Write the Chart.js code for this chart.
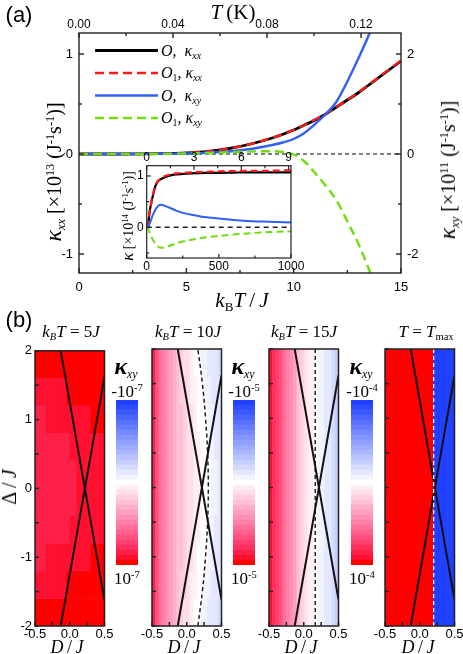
<!DOCTYPE html>
<html><head><meta charset="utf-8">
<script src="https://cdn.jsdelivr.net/npm/chart.js@4/dist/chart.umd.min.js"></script>
<style>
body{margin:0;width:463px;height:654px;position:relative;background:#fff;overflow:hidden;font-family:"Liberation Sans",Arial,sans-serif;}
canvas{position:absolute;}
.t{position:absolute;white-space:nowrap;transform:translate(-50%,-50%);font-family:"Liberation Serif","Times New Roman",serif;line-height:1;color:#000;}
.r{transform:translate(-50%,-50%) rotate(-90deg);}
.tl{position:absolute;white-space:nowrap;transform:translate(0,-50%);font-family:"Liberation Serif","Times New Roman",serif;line-height:1;font-style:italic;}
.s{font-family:"Liberation Sans",Arial,sans-serif;}
sub,sup{font-size:62%;line-height:0;position:relative;vertical-align:baseline;}
sup{top:-0.55em;} sub{top:0.3em;}
.k{font-style:italic;font-size:120%;}
.kb{font-style:italic;font-weight:bold;font-size:125%;}
</style></head><body>
<canvas id="main" width="463" height="310" style="left:0;top:0"></canvas>
<canvas id="inset" width="195" height="122" style="left:116px;top:150px"></canvas>
<canvas id="p0" width="125" height="310" style="left:0;top:340px"></canvas>
<canvas id="p1" width="125" height="310" style="left:117px;top:340px"></canvas>
<canvas id="p2" width="125" height="310" style="left:234px;top:340px"></canvas>
<canvas id="p3" width="125" height="310" style="left:350px;top:340px"></canvas>
<canvas id="cb0" width="22" height="165" style="left:116px;top:400px"></canvas>
<canvas id="cb1" width="22" height="165" style="left:233px;top:400px"></canvas>
<canvas id="cb2" width="22" height="165" style="left:351px;top:400px"></canvas>

<div class="t s" style="left:19px;top:15px;font-size:22px">(a)</div>
<div class="t" style="left:233px;top:12px;font-size:21px"><i>T</i>&thinsp;(K)</div>
<div class="t r" style="left:53px;top:172px;font-size:20px"><span class="k">κ</span><sub><i>xx</i></sub> [×10<sup>13</sup> (J<sup>-1</sup>s<sup>-1</sup>)]</div>
<div class="t r" style="left:447px;top:170px;font-size:20px"><span class="k">κ</span><sub><i>xy</i></sub> [×10<sup>11</sup> (J<sup>-1</sup>s<sup>-1</sup>)]</div>
<div class="t" style="left:242px;top:300px;font-size:21px"><i>k</i><sub>B</sub><i>T</i>&thinsp;/&thinsp;<i>J</i></div>
<div class="tl" style="left:161px;top:51px;font-size:16px">O,&nbsp; κ<sub>xx</sub></div>
<div class="tl" style="left:161px;top:73px;font-size:16px">O<sub style="font-style:normal">1</sub>, κ<sub>xx</sub></div>
<div class="tl" style="left:161px;top:96px;font-size:16px">O,&nbsp; κ<sub>xy</sub></div>
<div class="tl" style="left:161px;top:118px;font-size:16px">O<sub style="font-style:normal">1</sub>, κ<sub>xy</sub></div>
<div class="t r" style="left:128px;top:216px;font-size:14px"><span class="k">κ</span> [×10<sup>14</sup> (J<sup>-1</sup>s<sup>-1</sup>)]</div>

<div class="t s" style="left:19px;top:320px;font-size:22px">(b)</div>
<div class="t" style="left:71px;top:331px;font-size:17px"><i>k<sub>B</sub>T</i> = 5<i>J</i></div>
<div class="t" style="left:188px;top:331px;font-size:17px"><i>k<sub>B</sub>T</i> = 10<i>J</i></div>
<div class="t" style="left:304px;top:331px;font-size:17px"><i>k<sub>B</sub>T</i> = 15<i>J</i></div>
<div class="t" style="left:426px;top:331px;font-size:17px"><i>T</i> = <i>T</i><sub>max</sub></div>
<div class="t r" style="left:9px;top:487px;font-size:20px">Δ&thinsp;/&thinsp;<i>J</i></div>
<div class="t" style="left:67px;top:647px;font-size:18px"><i>D</i>&thinsp;/&thinsp;<i>J</i></div>
<div class="t" style="left:184px;top:647px;font-size:18px"><i>D</i>&thinsp;/&thinsp;<i>J</i></div>
<div class="t" style="left:301px;top:647px;font-size:18px"><i>D</i>&thinsp;/&thinsp;<i>J</i></div>
<div class="t" style="left:418px;top:647px;font-size:18px"><i>D</i>&thinsp;/&thinsp;<i>J</i></div>
<div class="t" style="left:126px;top:367px;font-size:19px"><span class="kb">κ</span><sub><i>xy</i></sub></div>
<div class="t" style="left:243px;top:367px;font-size:19px"><span class="kb">κ</span><sub><i>xy</i></sub></div>
<div class="t" style="left:361px;top:367px;font-size:19px"><span class="kb">κ</span><sub><i>xy</i></sub></div>
<div class="t" style="left:127px;top:391px;font-size:17px">-10<sup>-7</sup></div>
<div class="t" style="left:244px;top:391px;font-size:17px">-10<sup>-5</sup></div>
<div class="t" style="left:362px;top:391px;font-size:17px">-10<sup>-4</sup></div>
<div class="t" style="left:127px;top:578px;font-size:17px">10<sup>-7</sup></div>
<div class="t" style="left:244px;top:578px;font-size:17px">10<sup>-5</sup></div>
<div class="t" style="left:362px;top:578px;font-size:17px">10<sup>-4</sup></div>

<script>
// ---------- DATA ----------
const kT    = [0,1,2,3,4,5,6,7,8,9,10,10.5,11,11.5,12,12.5,13,13.5,14,14.5,15];
const kxxO  = [0,0,0,0.001,0.004,0.01,0.025,0.055,0.1,0.16,0.24,0.29,0.34,0.4,0.47,0.54,0.61,0.69,0.77,0.85,0.93];
const kxxO1 = [0,0,0,0.001,0.004,0.01,0.025,0.055,0.1,0.16,0.24,0.29,0.345,0.405,0.47,0.54,0.615,0.695,0.775,0.855,0.935];
const kTxy  = [0,1,2,3,4,5,6,7,8,9,9.5,10,10.5,11,11.5,12,12.5,13,13.5,14];
const kxyO  = [0,0,0,0.002,0.005,0.01,0.025,0.05,0.1,0.18,0.23,0.3,0.42,0.6,0.8,1.05,1.45,1.9,2.38,2.95];
const kxyO1 = [0,0,0,0,0.003,0.01,0.02,0.035,0.05,0.055,0.04,-0.01,-0.15,-0.38,-0.64,-0.93,-1.35,-1.78,-2.3,-2.9];

const nIn     = [0,10,20,30,40,60,80,100,150,200,250,300,400,500,600,700,800,900,1000];
const inO_xx  = [0,0.05,0.3,0.45,0.58,0.8,0.9,0.94,1.0,1.03,1.04,1.05,1.06,1.06,1.065,1.07,1.07,1.07,1.07];
const inO1_xx = [0,0.05,0.3,0.46,0.6,0.81,0.91,0.96,1.02,1.05,1.06,1.07,1.08,1.09,1.095,1.1,1.1,1.105,1.11];
const inO_xy  = [0,0,0.07,0.14,0.22,0.34,0.42,0.44,0.39,0.33,0.28,0.25,0.2,0.17,0.14,0.12,0.11,0.1,0.09];
const inO1_xy = [0,-0.02,-0.1,-0.17,-0.23,-0.32,-0.38,-0.4,-0.37,-0.32,-0.28,-0.25,-0.2,-0.17,-0.14,-0.12,-0.1,-0.09,-0.08];

const mainXTicks = [0,5,10,15], mainXMinor = [2.5,7.5,12.5];
const mainTTicks = [0,0.04,0.08,0.12], mainTLabels = ['0.00','0.04','0.08','0.12'], mainTMinor = [0.02,0.06,0.1];
const mainYTicks = [-1,0,1], mainYMinor = [-0.5,0.5];
const mainY1Ticks = [-2,0,2], mainY1Minor = [-1,1];
const inXTicks = [0,500,1000], inXLabels = ['0','500','1000'], inXMinor = [250,750];
const inTopTicks = [0,3,6,9], inTopMinor = [1.5,4.5,7.5];
const inYTicks = [0,1], inYMinor = [-0.5,0.5];

// heat maps: column centres in D/J, rows = bands of |Delta|/J
const Dcols = [-0.475,-0.425,-0.375,-0.325,-0.275,-0.225,-0.175,-0.125,-0.075,-0.025,0.025,0.075,0.125,0.175,0.225,0.275,0.325,0.375,0.425,0.475];
const bands5 = [0,0.4,0.8,1.2,1.6,2];
const bands1 = [0,2];
const heat5J = [
 [0.875,0.875,0.875,0.875,0.875,0.875,0.875,0.875,0.875,0.875,0.875,0.875,0.9375,0.9375,0.9375,0.9375,0.9375,0.9375,0.9375,0.9375],
 [0.875,0.875,0.875,0.875,0.875,0.875,0.875,0.875,0.875,0.875,0.9375,0.9375,0.9375,0.9375,0.9375,0.9375,0.9375,0.9375,0.9375,0.9375],
 [0.875,0.875,0.875,0.9375,0.9375,0.9375,0.9375,0.9375,0.9375,0.9375,0.9375,0.9375,0.9375,0.9375,0.9375,0.9375,1,1,1,1],
 [0.9375,0.9375,0.9375,0.9375,0.9375,0.9375,0.9375,0.9375,0.9375,1,1,1,1,1,1,1,1,1,1,1],
 [1,1,1,1,1,1,1,1,1,1,1,1,1,1,1,1,1,1,1,1]
];
const heat10J = [
 [0.88,0.7,0.58,0.5,0.44,0.38,0.33,0.28,0.23,0.19,0.15,0.11,0.08,0.05,0.02,0.0,-0.03,-0.06,-0.09,-0.12],
 [0.88,0.7,0.58,0.5,0.44,0.38,0.33,0.28,0.23,0.19,0.15,0.11,0.07,0.04,0.01,-0.01,-0.04,-0.07,-0.1,-0.12],
 [0.87,0.69,0.57,0.49,0.43,0.37,0.32,0.27,0.22,0.18,0.14,0.1,0.06,0.03,0.0,-0.03,-0.06,-0.08,-0.11,-0.13],
 [0.86,0.68,0.56,0.48,0.42,0.36,0.31,0.26,0.21,0.16,0.12,0.08,0.04,0.01,-0.02,-0.05,-0.08,-0.1,-0.12,-0.14],
 [0.85,0.67,0.55,0.47,0.41,0.35,0.29,0.24,0.19,0.14,0.1,0.06,0.02,-0.01,-0.04,-0.07,-0.1,-0.12,-0.14,-0.16]
];
const heat15J = [
 [0.94,0.84,0.74,0.66,0.58,0.5,0.42,0.35,0.28,0.21,0.15,0.09,0.04,0.0,-0.04,-0.08,-0.11,-0.14,-0.18,-0.22]
];
const heatTmax = [
 [1,1,1,1,1,1,1,1,1,1,1,1,1,1,-1,-1,-1,-1,-1,-1]
];
// phase-boundary lines (D/J, Delta/J)
const lineA_D = [-0.13,0.5],  lineA_Delta = [2,-1.62];
const lineB_D = [-0.13,0.5],  lineB_Delta = [-2,1.62];
const zero10_D = [0.16,0.225,0.27,0.3,0.31,0.3,0.27,0.225,0.16];
const zero10_Delta = [-2,-1.5,-1,-0.5,0,0.5,1,1.5,2];
const zero15_D = [0.165,0.165], zero15_Delta = [-2,2];
const zeroTm_D = [0.2,0.2],     zeroTm_Delta = [-2,2];
const panelXTicks = [-0.5,0,0.5], panelXLabels = ['-0.5','0.0','0.5'], panelXMinor = [-0.25,0.25];
const panelYTicks = [2,1,0,-1,-2], panelYLabels = ['2','1','0','-1','-2'], panelYMinor = [-1.5,-0.5,0.5,1.5];
// colour-bar levels, top (negative, blue) to bottom (positive, red), in units of 1/16
const cbSteps = [-16,-15,-14,-13,-12,-11,-10,-9,-8,-7,-6,-5,-4,-3,-2,-1,0,1,2,3,4,5,6,7,8,9,10,11,12,13,14,15,16];

// ---------- STYLE / HELPERS ----------
Chart.defaults.font.family = '"Liberation Sans", Arial, sans-serif';
Chart.defaults.color = '#000';
const TICKS = vals => s => { s.ticks = vals.map(v => ({value: v})); };
const pts = (xs, ys) => xs.map((x, i) => ({x, y: ys[i]}));
function cmap(v) {
  v = Math.round(v * 16) / 16;
  if (v >= 0) {
    const g = Math.round(255 * (1 - v)), b = Math.round(255 * Math.pow(1 - v, 0.6));
    return `rgb(255,${g},${b})`;
  }
  const w = -v;
  return `rgb(${Math.round(255 - 223 * w)},${Math.round(255 - 191 * w)},255)`;
}
const boxTicks = {
  id: 'boxTicks',
  afterDatasetsDraw(chart, args, o) {
    const {ctx, chartArea: a} = chart;
    ctx.save();
    ctx.strokeStyle = '#222'; ctx.lineWidth = o.width || 1.4; ctx.setLineDash([]);
    (o.ticks || []).forEach(t => {
      const s = chart.scales[t.axis];
      const draw = (v, len) => {
        const p = s.getPixelForValue(v);
        ctx.beginPath();
        if (t.side === 'bottom') { ctx.moveTo(p, a.bottom); ctx.lineTo(p, a.bottom - len); }
        else if (t.side === 'top') { ctx.moveTo(p, a.top); ctx.lineTo(p, a.top + len); }
        else if (t.side === 'left') { ctx.moveTo(a.left, p); ctx.lineTo(a.left + len, p); }
        else { ctx.moveTo(a.right, p); ctx.lineTo(a.right - len, p); }
        ctx.stroke();
      };
      t.major.forEach(v => draw(v, t.len || 5));
      (t.minor || []).forEach(v => draw(v, t.mlen || 3));
    });
    ctx.strokeRect(a.left, a.top, a.right - a.left, a.bottom - a.top);
    ctx.restore();
  }
};
const legendLines = {
  id: 'legendLines',
  afterDraw(chart, args, o) {
    const ctx = chart.ctx;
    o.rows.forEach((y, k) => {
      const ds = chart.data.datasets[o.order[k]];
      ctx.save();
      ctx.strokeStyle = ds.borderColor; ctx.lineWidth = ds.borderWidth;
      ctx.setLineDash(ds.borderDash || []);
      ctx.beginPath(); ctx.moveTo(o.x0, y); ctx.lineTo(o.x1, y); ctx.stroke();
      ctx.restore();
    });
  }
};
const noGrid = {grid: {display: false, drawTicks: false, tickLength: 0}, border: {display: false}};
const base = {responsive: false, animation: false, devicePixelRatio: 1, events: []};

// ---------- MAIN PANEL (a) ----------
new Chart(document.getElementById('main'), {
  type: 'line',
  data: {datasets: [
    {data: pts(kT, kxxO),  yAxisID: 'y',  borderColor: '#000000', borderWidth: 2.8, order: 4},
    {data: pts(kT, kxxO1), yAxisID: 'y',  borderColor: '#ff1a1a', borderWidth: 2.4, borderDash: [9, 5], order: 3},
    {data: pts(kTxy, kxyO),  yAxisID: 'y1', borderColor: '#3060f5', borderWidth: 2.4, order: 2},
    {data: pts(kTxy, kxyO1), yAxisID: 'y1', borderColor: '#70dd10', borderWidth: 2.4, borderDash: [9, 5], order: 1},
    {data: pts([0, 15], [0, 0]), yAxisID: 'y', borderColor: '#000', borderWidth: 1, borderDash: [4, 3], order: 5}
  ]},
  options: Object.assign({}, base, {
    layout: {padding: 0},
    elements: {point: {radius: 0}, line: {cubicInterpolationMode: 'monotone'}},
    plugins: {legend: {display: false}, tooltip: {enabled: false},
      boxTicks: {ticks: [
        {axis: 'x', side: 'bottom', major: mainXTicks, minor: mainXMinor},
        {axis: 'x2', side: 'top', major: mainTTicks, minor: mainTMinor},
        {axis: 'y', side: 'left', major: mainYTicks, minor: mainYMinor},
        {axis: 'y1', side: 'right', major: mainY1Ticks, minor: mainY1Minor}]},
      legendLines: {x0: 95, x1: 158, rows: [50.5, 73, 95.5, 118], order: [0, 1, 2, 3]}
    },
    scales: {
      x: Object.assign({type: 'linear', position: 'bottom', min: 0, max: 15,
        afterFit: s => { s.height = 37; }, afterBuildTicks: TICKS(mainXTicks),
        ticks: {padding: 7, font: {size: 13}, maxRotation: 0, autoSkip: false}}, noGrid),
      x2: Object.assign({type: 'linear', position: 'top', min: 0, max: 0.137,
        afterFit: s => { s.height = 33; }, afterBuildTicks: TICKS(mainTTicks),
        ticks: {padding: 1, font: {size: 12}, maxRotation: 0, autoSkip: false, callback: (v, i) => mainTLabels[i]}}, noGrid),
      y: Object.assign({type: 'linear', position: 'left', min: -1.19, max: 1.21,
        afterFit: s => { s.width = 79; }, afterBuildTicks: TICKS(mainYTicks),
        ticks: {padding: 6, font: {size: 13}}}, noGrid),
      y1: Object.assign({type: 'linear', position: 'right', min: -2.38, max: 2.42,
        afterFit: s => { s.width = 62; }, afterBuildTicks: TICKS(mainY1Ticks),
        ticks: {padding: 6, font: {size: 13}}}, noGrid)
    }
  }),
  plugins: [boxTicks, legendLines]
});

// ---------- INSET ----------
new Chart(document.getElementById('inset'), {
  type: 'line',
  data: {datasets: [
    {data: pts(nIn, inO_xx),  borderColor: '#000000', borderWidth: 2.2, order: 4},
    {data: pts(nIn, inO1_xx), borderColor: '#ff1a1a', borderWidth: 2.2, borderDash: [7, 4], order: 3},
    {data: pts(nIn, inO_xy),  borderColor: '#3060f5', borderWidth: 2, order: 2},
    {data: pts(nIn, inO1_xy), borderColor: '#70dd10', borderWidth: 2, borderDash: [7, 4], order: 1},
    {data: pts([0, 1000], [0, 0]), borderColor: '#222', borderWidth: 1.4, borderDash: [5, 4], order: 5}
  ]},
  options: Object.assign({}, base, {
    layout: {padding: {right: 20, left: 0, top: 0, bottom: 0}},
    elements: {point: {radius: 0}, line: {cubicInterpolationMode: 'monotone'}},
    plugins: {legend: {display: false}, tooltip: {enabled: false},
      boxTicks: {width: 1.2, ticks: [
        {axis: 'x', side: 'bottom', major: inXTicks, minor: inXMinor, len: 4, mlen: 2.5},
        {axis: 'x2', side: 'top', major: inTopTicks, minor: inTopMinor, len: 4, mlen: 2.5},
        {axis: 'y', side: 'left', major: inYTicks, minor: inYMinor, len: 4, mlen: 2.5}]}
    },
    scales: {
      x: Object.assign({type: 'linear', position: 'bottom', min: 0, max: 1000,
        afterFit: s => { s.height = 14; }, afterBuildTicks: TICKS(inXTicks),
        ticks: {padding: 1, font: {size: 12}, maxRotation: 0, autoSkip: false, callback: (v, i) => inXLabels[i]}}, noGrid),
      x2: Object.assign({type: 'linear', position: 'top', min: 0, max: 9.15,
        afterFit: s => { s.height = 15.7; }, afterBuildTicks: TICKS(inTopTicks),
        ticks: {padding: 1, font: {size: 12}, maxRotation: 0, autoSkip: false}}, noGrid),
      y: Object.assign({type: 'linear', position: 'left', min: -0.6, max: 1.2,
        afterFit: s => { s.width = 30.7; }, afterBuildTicks: TICKS(inYTicks),
        ticks: {padding: 3, font: {size: 12}}}, noGrid)
    }
  }),
  plugins: [boxTicks]
});

// ---------- PANELS (b) ----------
function heatDatasets(levels, edges) {
  const out = [];
  levels.forEach((row, r) => {
    const lo = edges[r], hi = edges[r + 1];
    const spans = lo === 0 ? [[-hi, hi]] : [[lo, hi], [-hi, -lo]];
    spans.forEach(sp => out.push({
      type: 'bar', data: Dcols.map(d => ({x: d, y: sp})), backgroundColor: row.map(cmap),
      grouped: false, barPercentage: 1, categoryPercentage: 1, borderWidth: 0, order: 10
    }));
  });
  return out;
}
const lineDs = (xs, ys, color, width, dash, tension) => ({
  type: 'line', data: pts(xs, ys), borderColor: color, borderWidth: width, borderDash: dash || [],
  pointRadius: 0, tension: tension || 0, order: 1
});
const panels = [
  {levels: heat5J, edges: bands5, zero: null},
  {levels: heat10J, edges: bands5, zero: lineDs(zero10_D, zero10_Delta, '#111', 1.4, [4, 3], 0.4)},
  {levels: heat15J, edges: bands1, zero: lineDs(zero15_D, zero15_Delta, '#111', 1.4, [4, 3])},
  {levels: heatTmax, edges: bands1, zero: lineDs(zeroTm_D, zeroTm_Delta, '#ffffff', 1.3, [4, 3])}
];
panels.forEach((p, idx) => {
  const ds = heatDatasets(p.levels, p.edges);
  if (p.zero) ds.push(p.zero);
  ds.push(lineDs(lineA_D, lineA_Delta, '#111', 2));
  ds.push(lineDs(lineB_D, lineB_Delta, '#111', 2));
  new Chart(document.getElementById('p' + idx), {
    type: 'bar',
    data: {datasets: ds},
    options: Object.assign({}, base, {
      layout: {padding: {top: 9, right: 20.5, left: 0, bottom: 0}},
      plugins: {legend: {display: false}, tooltip: {enabled: false},
        boxTicks: {width: 1.5, ticks: [
          {axis: 'x', side: 'bottom', major: panelXTicks, minor: panelXMinor, len: 4, mlen: 4},
          {axis: 'y', side: 'left', major: panelYTicks, minor: panelYMinor, len: 4, mlen: 4}]}
      },
      scales: {
        x: Object.assign({type: 'linear', min: -0.5, max: 0.5, offset: false,
          afterFit: s => { s.height = 24; }, afterBuildTicks: TICKS(panelXTicks),
          ticks: {padding: 1, font: {size: 13}, maxRotation: 0, autoSkip: false, callback: (v, i) => panelXLabels[i]}}, noGrid),
        y: Object.assign({type: 'linear', min: -2, max: 2, beginAtZero: false,
          afterFit: s => { s.width = 35; }, afterBuildTicks: TICKS(panelYTicks),
          ticks: {display: idx === 0, padding: 3, font: {size: 13}, callback: (v, i) => panelYLabels[i]}}, noGrid)
      }
    }),
    plugins: [boxTicks]
  });
});

// ---------- COLOUR BARS ----------
[0, 1, 2].forEach(k => {
  new Chart(document.getElementById('cb' + k), {
    type: 'bar',
    data: {labels: cbSteps.map(String),
      datasets: [{data: cbSteps.map(() => [0, 1]), backgroundColor: cbSteps.map(s => cmap(s / 16)),
        barPercentage: 1, categoryPercentage: 1, borderWidth: 0}]},
    options: Object.assign({}, base, {
      indexAxis: 'y', layout: {padding: 0},
      plugins: {legend: {display: false}, tooltip: {enabled: false}},
      scales: {x: {display: false, min: 0, max: 1}, y: {display: false}}
    })
  });
});
</script>
</body></html>
